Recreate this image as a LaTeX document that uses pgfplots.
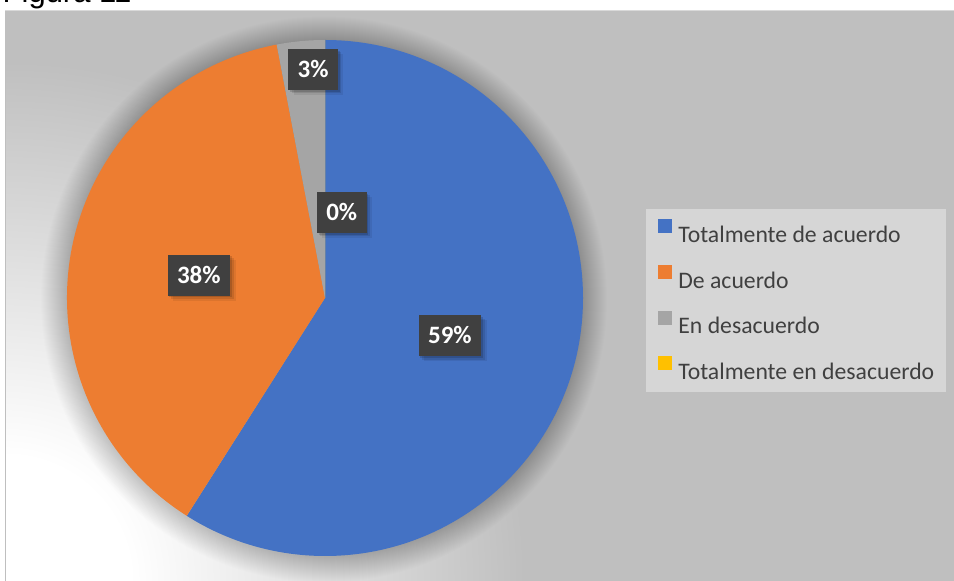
\documentclass[border=0pt]{standalone}
\usepackage{fontspec}
\setmainfont{Carlito}
\newfontfamily\figfont{Liberation Sans}
\usepackage{pgfplots}
\pgfplotsset{compat=1.18}
\usepackage{pgfplotstable}

\definecolor{sl0}{HTML}{4472C4}
\definecolor{sl1}{HTML}{ED7D31}
\definecolor{sl2}{HTML}{A5A5A5}
\definecolor{sl3}{HTML}{FFC000}
\definecolor{bggray}{HTML}{BFBFBF}
\definecolor{framelt}{HTML}{D9D9D9}
\definecolor{legbg}{HTML}{D6D6D6}
\definecolor{legtext}{HTML}{404040}
\definecolor{lblbg}{HTML}{404040}

\pgfdeclareradialshading{bgglow}{\pgfpoint{0bp}{0bp}}{%
  color(0bp)=(white); color(6bp)=(white); color(25bp)=(bggray); color(50bp)=(bggray)}

% share of answers, label radius (fraction of R) and label angle shift
\pgfplotstableread[col sep=comma]{
label,value,lr,da
Totalmente de acuerdo,59,0.506,-0.7
De acuerdo,38,0.497,0.5
En desacuerdo,3,0.887,-2.4
Totalmente en desacuerdo,0,0.338,-11.05
}\piedata

% slice angles, clockwise from the top
\gdef\pccum{0}
\foreach \i in {0,...,3}{%
  \pgfplotstablegetelem{\i}{value}\of\piedata\let\pcval\pgfplotsretval
  \pgfplotstablegetelem{\i}{lr}\of\piedata\let\pclr\pgfplotsretval
  \pgfplotstablegetelem{\i}{da}\of\piedata\let\pcda\pgfplotsretval
  \pgfmathsetmacro\pcs{90-3.6*\pccum}%
  \pgfmathsetmacro\pce{90-3.6*(\pccum+\pcval)}%
  \pgfmathsetmacro\pcm{(\pcs+\pce)/2+\pcda}%
  \pgfmathsetmacro\pclx{325+\pclr*258*cos(\pcm)}%
  \pgfmathsetmacro\pcly{283+\pclr*258*sin(\pcm)}%
  \expandafter\xdef\csname sa\i\endcsname{\pcs}%
  \expandafter\xdef\csname ea\i\endcsname{\pce}%
  \expandafter\xdef\csname lx\i\endcsname{\pclx}%
  \expandafter\xdef\csname ly\i\endcsname{\pcly}%
  \expandafter\xdef\csname pv\i\endcsname{\pcval}%
  \pgfmathsetmacro\pctmp{\pccum+\pcval}%
  \xdef\pccum{\pctmp}%
}

\tikzset{lblbox/.style={fill=lblbg, text=white,
    font=\bfseries\fontsize{25}{30}\selectfont,
    minimum height=41pt, inner xsep=9.5pt, inner ysep=0pt,
    text height=16pt, text depth=0pt}}

\begin{document}
\begin{tikzpicture}[x=1pt,y=1pt]
  \useasboundingbox (0,0) rectangle (954,581);
  \fill[white] (0,0) rectangle (954,581);
  \node[anchor=base west, inner sep=0pt, font=\figfont\fontsize{31}{36}\selectfont] at (2.5,578) {Figura 11};
  \begin{scope}
    \clip (5,0) rectangle (954,571);
    \fill[bggray] (5,0) rectangle (954,571);
    \shade[shading=bgglow] (5,0) circle (520);
    % soft shadow round the pie
    \foreach \k in {1,...,26} \fill[black, opacity=0.0075] (324,281.5) circle (257+\k);
  \end{scope}
  \fill[bggray] (4.5,0) rectangle (6.2,571);
  \fill[framelt] (5,570) rectangle (954,571.2);

  \begin{axis}[
      scale only axis,
      width=954pt, height=581pt,
      xmin=0, xmax=954, ymin=0, ymax=581,
      hide axis, clip=false,
      legend cell align=left,
      legend style={at={(0.677149,0.640275)}, anchor=north west,
        fill=legbg, draw=none, inner xsep=12pt, inner ysep=10pt,
        row sep=20pt, column sep=0pt,
        font=\fontsize{23.7}{28}\selectfont, text=legtext,
        nodes={inner sep=0pt, text height=19.5pt, text depth=2.5pt}},
    ]
    \pgfplotsinvokeforeach{0,...,3}{
      \fill[sl#1] (axis cs:325,283) -- ++(\csname sa#1\endcsname:258pt)
        arc[start angle=\csname sa#1\endcsname, end angle=\csname ea#1\endcsname, radius=258pt] -- cycle;
    }
    \pgfplotsinvokeforeach{0,...,3}{
      \node[lblbox, fill=black, fill opacity=0.07, text opacity=0, xshift=5.5pt, yshift=-5pt]
        at (axis cs:\csname lx#1\endcsname,\csname ly#1\endcsname) {\csname pv#1\endcsname\%};
      \node[lblbox, fill=black, fill opacity=0.10, text opacity=0, xshift=3.5pt, yshift=-3.5pt]
        at (axis cs:\csname lx#1\endcsname,\csname ly#1\endcsname) {\csname pv#1\endcsname\%};
      \node[lblbox, fill=black, fill opacity=0.14, text opacity=0, xshift=1.8pt, yshift=-1.8pt]
        at (axis cs:\csname lx#1\endcsname,\csname ly#1\endcsname) {\csname pv#1\endcsname\%};
      \node[lblbox] at (axis cs:\csname lx#1\endcsname,\csname ly#1\endcsname) {\csname pv#1\endcsname\%};
    }
    \addlegendimage{legend image code/.code={\fill[sl0] (0pt,1.5pt) rectangle (13pt,14.5pt); \path[draw=none] (0pt,1.5pt) -- (20pt,1.5pt);}}
    \addlegendimage{legend image code/.code={\fill[sl1] (0pt,1.5pt) rectangle (13pt,14.5pt); \path[draw=none] (0pt,1.5pt) -- (20pt,1.5pt);}}
    \addlegendimage{legend image code/.code={\fill[sl2] (0pt,1.5pt) rectangle (13pt,14.5pt); \path[draw=none] (0pt,1.5pt) -- (20pt,1.5pt);}}
    \addlegendimage{legend image code/.code={\fill[sl3] (0pt,1.5pt) rectangle (13pt,14.5pt); \path[draw=none] (0pt,1.5pt) -- (20pt,1.5pt);}}
    \legend{Totalmente de acuerdo, De acuerdo, En desacuerdo, Totalmente en desacuerdo}
  \end{axis}
\end{tikzpicture}
\end{document}
